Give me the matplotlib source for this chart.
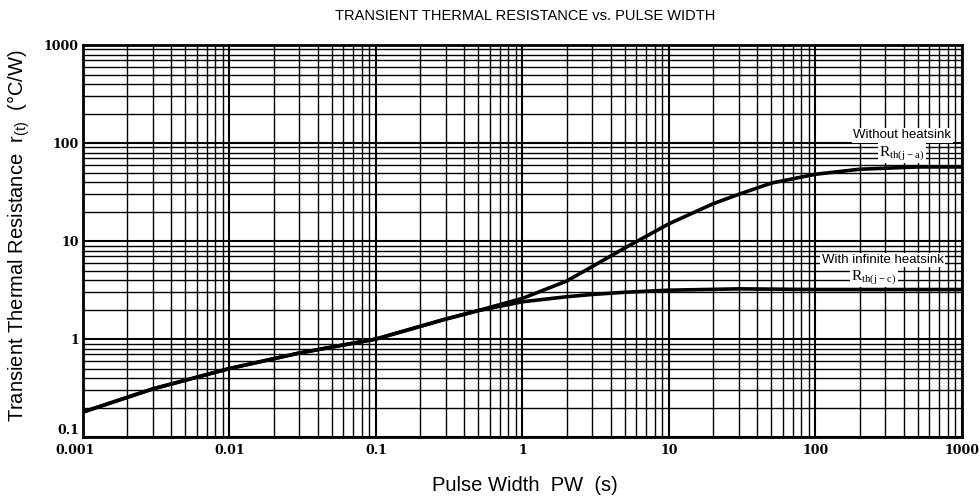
import matplotlib
matplotlib.use("Agg")
import matplotlib.pyplot as plt
import matplotlib.transforms as mtransforms
from matplotlib.ticker import NullFormatter, LogLocator

# Data
pw_upper = [0.001, 0.003, 0.01, 0.03, 0.1, 0.3, 0.5, 1, 2, 3, 5, 10, 20, 30, 50, 100, 200, 500, 1000]
r_upper = [0.18, 0.31, 0.5, 0.72, 1.0, 1.6, 1.95, 2.6, 3.9, 5.5, 8.5, 15, 24, 30, 39, 48, 54, 57, 57]

pw_lower = [0.001, 0.003, 0.01, 0.03, 0.1, 0.3, 0.5, 1, 2, 3, 5, 10, 30, 100, 1000]
r_lower = [0.18, 0.31, 0.5, 0.72, 1.0, 1.6, 1.95, 2.4, 2.7, 2.85, 3.0, 3.15, 3.25, 3.2, 3.2]

x_ticks = [0.001, 0.01, 0.1, 1, 10, 100, 1000]
x_tick_labels = ["0.001", "0.01", "0.1", "1", "10", "100", "1000"]
y_ticks = [0.1, 1, 10, 100, 1000]
y_tick_labels = ["0.1", "1", "10", "100", "1000"]

fig = plt.figure(figsize=(9.8, 4.99), dpi=100)
ax = fig.add_axes([0.0847, 0.1242, 0.8969, 0.7856])
ax.set_xscale("log")
ax.set_yscale("log")
ax.set_xlim(0.001, 1000)
ax.set_ylim(0.1, 1000)

ax.xaxis.set_minor_locator(LogLocator(base=10, subs=range(2, 10), numticks=100))
ax.yaxis.set_minor_locator(LogLocator(base=10, subs=range(2, 10), numticks=100))
ax.xaxis.set_minor_formatter(NullFormatter())
ax.yaxis.set_minor_formatter(NullFormatter())
ax.set_xticks(x_ticks)
ax.set_xticklabels(x_tick_labels)
ax.set_yticks(y_ticks)
ax.set_yticklabels(y_tick_labels)

ax.grid(which="major", color="black", lw=1.5)
ax.grid(which="minor", color="black", lw=1.0)
ax.tick_params(which="both", length=0)
ax.tick_params(axis="x", pad=5)
ax.tick_params(axis="y", pad=3)
for lbl in ax.get_xticklabels() + ax.get_yticklabels():
    lbl.set_fontfamily("DejaVu Serif")
    lbl.set_fontsize(9)
    lbl.set_fontweight("bold")

# bottom y label sits slightly above the axis corner, first x label slightly left
ax.get_yticklabels()[0].set_verticalalignment("bottom")
xl0 = ax.get_xticklabels()[0]
xl0.set_transform(xl0.get_transform() + mtransforms.ScaledTranslation(-8 / 100, 0, fig.dpi_scale_trans))

for s in ax.spines.values():
    s.set_linewidth(2.0)
    s.set_color("black")

ax.plot(pw_upper, r_upper, color="black", lw=2.6, solid_capstyle="butt", zorder=5)
ax.plot(pw_lower, r_lower, color="black", lw=2.6, solid_capstyle="butt", zorder=5)

bbox = dict(facecolor="white", edgecolor="none", pad=1.0)
ax.text(0.932, 0.770, "Without heatsink", transform=ax.transAxes, fontsize=9.5,
        family="Liberation Sans", ha="center", va="center", bbox=bbox, zorder=6)
ax.text(0.906, 0.7245, r"$\mathregular{R_{th(j-a)}}$", transform=ax.transAxes, fontsize=11,
        family="Liberation Serif", ha="left", va="center", bbox=bbox, zorder=6)
ax.text(0.910, 0.4515, "With infinite heatsink", transform=ax.transAxes, fontsize=9.5,
        family="Liberation Sans", ha="center", va="center", bbox=bbox, zorder=6)
ax.text(0.874, 0.408, r"$\mathregular{R_{th(j-c)}}$", transform=ax.transAxes, fontsize=11,
        family="Liberation Serif", ha="left", va="center", bbox=bbox, zorder=6)

fig.text(0.536, 0.968, "TRANSIENT THERMAL RESISTANCE vs. PULSE WIDTH", ha="center", va="center",
         fontsize=10.5, family="Liberation Sans")
fig.text(0.536, 0.028, "Pulse Width  PW  (s)", ha="center", va="center",
         fontsize=14.5, family="Liberation Sans")
fig.text(0.019, 0.527, r"Transient Thermal Resistance  $\mathregular{r_{(t)}}$  (°C/W)", rotation=90,
         ha="center", va="center", fontsize=14.5, family="Liberation Sans")

fig.savefig("out.png", dpi=100)
